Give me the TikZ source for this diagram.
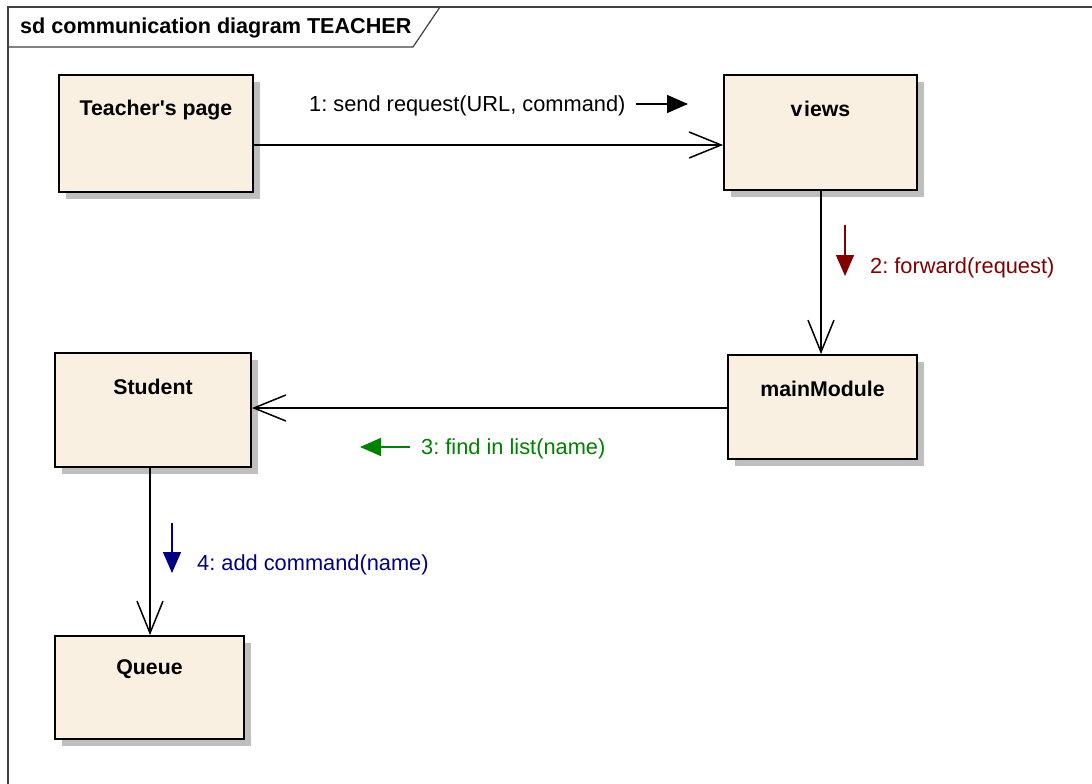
\documentclass[tikz,border=0pt]{standalone}
\usepackage{fontspec}
\setmainfont{Liberation Sans}[Ligatures=TeXOff]
\usetikzlibrary{arrows.meta,shadows}
\frenchspacing

\definecolor{objfill}{HTML}{FAF0E2}
\definecolor{msgred}{HTML}{800000}
\definecolor{msggreen}{HTML}{008000}
\definecolor{msgblue}{HTML}{000080}
\definecolor{framegray}{HTML}{404040}

\tikzset{
  obj/.style={draw=black, line width=1.8pt, fill=objfill, rectangle, inner sep=0pt,
    drop shadow={shadow xshift=7pt, shadow yshift=-7pt, fill=black!25, opacity=1}},
  objname/.style={font=\fontsize{21.3}{25}\selectfont\bfseries, inner sep=0pt},
  msgtext/.style={font=\fontsize{21.8}{25}\selectfont, inner sep=0pt, anchor=west},
  link/.style={line width=1.5pt, -{Straight Barb[length=32pt,width=26pt]}},
  msgarrow/.style={line width=1.5pt, -{Triangle[length=21pt,width=18pt]}},
}

\begin{document}
\begin{tikzpicture}[x=1pt,y=-1pt]
  \useasboundingbox (0,0) rectangle (1092,784);
  \fill[white] (0,0) rectangle (1092,784);

  % diagram frame with its name tab
  \draw[framegray, line width=1.2pt] (1092,7) -- (8,7) -- (8,784);
  \draw[framegray, line width=1.2pt] (8,47) -- (413,47) -- (440,7);
  \node[font=\fontsize{21.6}{25}\selectfont\bfseries, inner sep=0pt, anchor=base west] (title) at (20,34) {sd communication diagram TEACHER};

  % objects
  \node[obj, minimum width=194pt, minimum height=117pt] (tp) at (156,133.5) {};
  \node[objname] (tpl) at ([yshift=-36pt]tp.north) {Teacher's page};

  \node[obj, minimum width=193pt, minimum height=115pt] (views) at (820.5,132.5) {};
  \node[objname] (viewsl) at ([yshift=-35pt]views.north) {v\kern1.5pt iews};

  \node[obj, minimum width=189pt, minimum height=104pt] (main) at (822.5,407) {};
  \node[objname] (mainl) at ([yshift=-35pt]main.north) {mainModule};

  \node[obj, minimum width=196pt, minimum height=114pt] (stud) at (153,410) {};
  \node[objname] (studl) at ([yshift=-35pt]stud.north) {Student};

  \node[obj, minimum width=189pt, minimum height=103pt] (queue) at (149.5,687.5) {};
  \node[objname] (queuel) at ([yshift=-34pt]queue.north) {Queue};

  % links
  \draw[link] (tp.east |- 0,145) -- (views.west |- 0,145);
  \draw[link] (views.south -| 821,0) -- (main.north -| 821,0);
  \draw[link] (main.west |- 0,408) -- (stud.east |- 0,408);
  \draw[link] (stud.south -| 150,0) -- (queue.north -| 150,0);

  % messages
  \node[msgtext] (m1) at (309,106) {1: send request(URL, command)};
  \coordinate (m1a) at (636,104);
  \coordinate (m1b) at (688,104);
  \draw[msgarrow, black] (m1a) -- (m1b);

  \node[msgtext, text=msgred] (m2) at (870,268) {2: forward(request)};
  \coordinate (m2a) at (845,225);
  \coordinate (m2b) at (845,276);
  \draw[msgarrow, msgred] (m2a) -- (m2b);

  \node[msgtext, text=msggreen] (m3) at (421,449) {3: find in list(name)};
  \coordinate (m3a) at (410,447);
  \coordinate (m3b) at (360,447);
  \draw[msgarrow, msggreen] (m3a) -- (m3b);

  \node[msgtext, text=msgblue] (m4) at (197,565) {4: add command(name)};
  \coordinate (m4a) at (172,523);
  \coordinate (m4b) at (172,573);
  \draw[msgarrow, msgblue] (m4a) -- (m4b);
\end{tikzpicture}
\end{document}
